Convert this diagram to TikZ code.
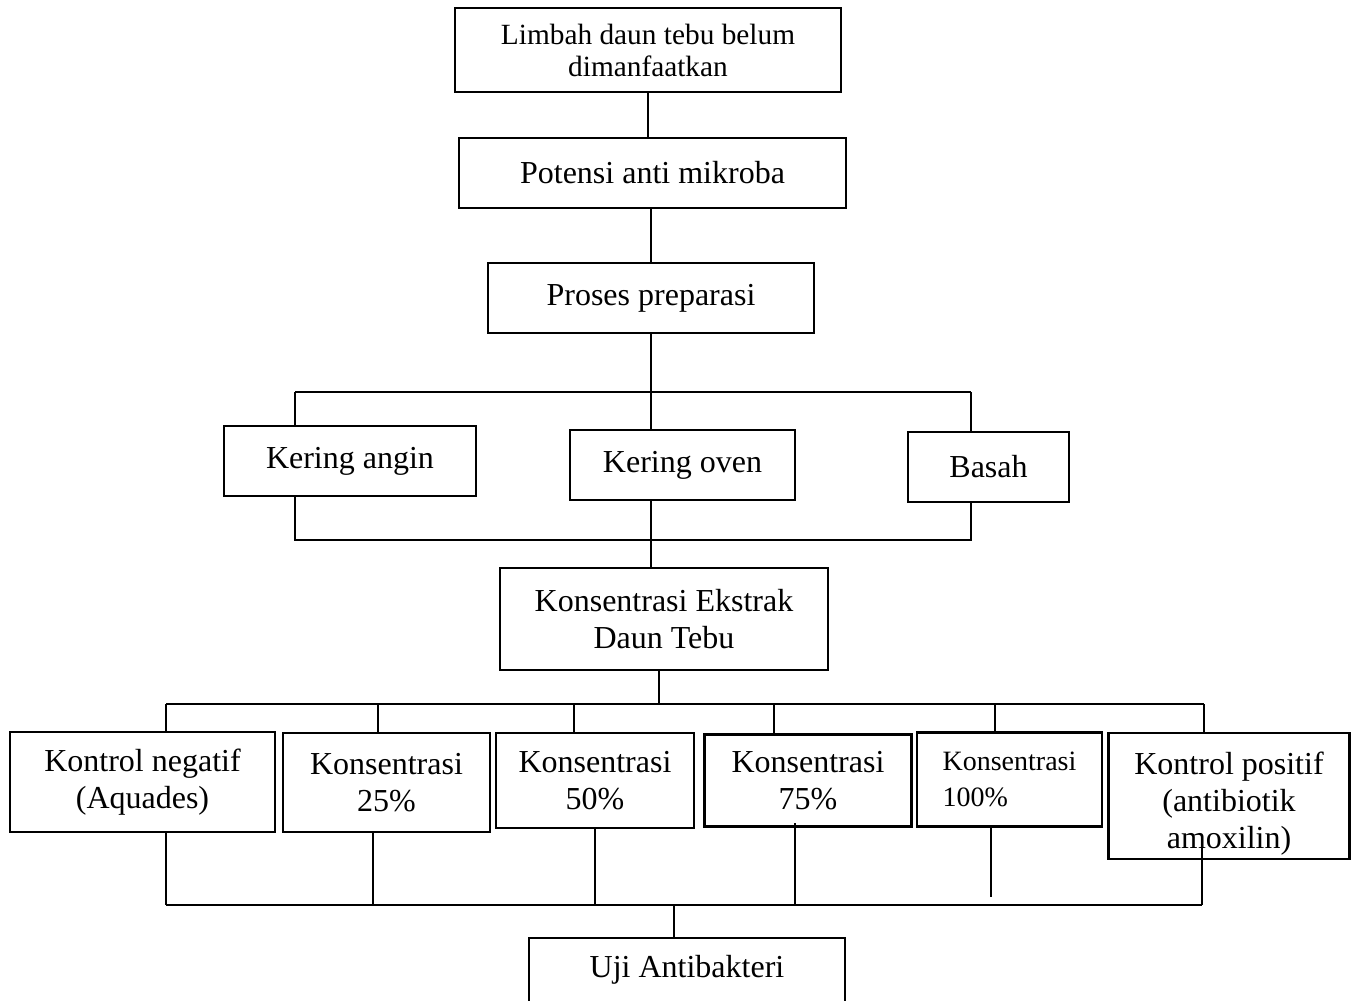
\documentclass[tikz,border=0pt]{standalone}
\usepackage{fontspec}
\setmainfont{Liberation Serif}
\begin{document}
\begin{tikzpicture}[x=0.75pt,y=-0.75pt,
  box/.style={draw,line width=1.8pt,inner sep=0pt,align=center,
    font=\fontsize{24}{27.75}\selectfont},
  boxtext/.style={inner sep=0pt,align=center,font=\fontsize{24}{27.75}\selectfont},
  conn/.style={line width=1.6pt},
  thinconn/.style={line width=0.8pt},
  midconn/.style={line width=1.1pt}]
\useasboundingbox (0,0) rectangle (1357,1000);
\clip (0,0) rectangle (1357,1000);
% boxes
\node[box,minimum width=289.5pt,minimum height=63pt,font=\fontsize{22}{24}\selectfont] (limbah) at (648,50) {Limbah daun tebu belum\\dimanfaatkan};
\node[box,minimum width=290.25pt,minimum height=52.5pt] (potensi) at (652.5,173) {Potensi anti mikroba};
\node[box,minimum width=244.5pt,minimum height=52.5pt] (proses) at (651,298) {Proses preparasi};
\node[box,minimum width=189pt,minimum height=52.5pt] (kangin) at (350,461) {Kering angin};
\node[box,minimum width=168.75pt,minimum height=52.5pt] (koven) at (682.5,465) {Kering oven};
\node[box,minimum width=120.75pt,minimum height=52.5pt] (basah) at (988.5,467) {Basah};
\node[box,minimum width=246pt,minimum height=76.5pt] (ekstrak) at (664,619) {Konsentrasi Ekstrak\\Daun Tebu};
\node[box,minimum width=198.75pt,minimum height=75pt] (kneg) at (142.5,782) {Kontrol negatif\\(Aquades)};
\node[box,minimum width=155.25pt,minimum height=74.25pt] (k25) at (386.5,782.5) {Konsentrasi\\25\%};
\node[box,minimum width=148.5pt,minimum height=71.25pt] (k50) at (595,780.5) {Konsentrasi\\50\%};
\node[box,minimum width=155.25pt,minimum height=69pt] (k75) at (808,780.5) {Konsentrasi\\75\%};
\node[box,minimum width=138.75pt,minimum height=70.5pt,align=left,font=\fontsize{21}{27}\selectfont] (k100) at (1009.5,779.5) {Konsentrasi\\100\%};
\node[box,minimum width=180.75pt,minimum height=94.5pt,
  label={[boxtext,yshift=-6pt]center:{Kontrol positif\\(antibiotik\\amoxilin)}}] (kpos) at (1229,796) {};
\node[box,minimum width=237pt,minimum height=48pt] (uji) at (687,970) {Uji Antibakteri};
% junction coordinates
\coordinate (ja1) at (295,392);
\coordinate (ja2) at (971,392);
\coordinate (jb1) at (295,540);
\coordinate (jb2) at (971,540);
\coordinate (jc) at (659,704);
\coordinate (c1) at (166,704);
\coordinate (c2) at (378,704);
\coordinate (c3) at (574,704);
\coordinate (c4) at (774,704);
\coordinate (c5) at (995,704);
\coordinate (c6) at (1204,704);
\coordinate (d1) at (166,905);
\coordinate (d2) at (373,905);
\coordinate (d3) at (595,905);
\coordinate (d4) at (795,905);
\coordinate (d5) at (991,897);
\coordinate (d6) at (1202,905);
\coordinate (d4top) at (795,823);
\coordinate (d6top) at (1202,848);
\coordinate (jd) at (674,905);
% upper connectors
\draw[conn] (limbah.south) -- (limbah.south |- potensi.north);
\draw[conn] (potensi.south -| proses) -- (proses.north);
\draw[conn] (proses.south) -- (proses.south |- koven.north);
\draw[conn] (ja1) -- (ja2);
\draw[conn] (ja1) -- (ja1 |- kangin.north);
\draw[conn] (ja2) -- (ja2 |- basah.north);
\draw[conn] (kangin.south -| jb1) -- (jb1) -- (jb2) -- (basah.south -| jb2);
\draw[conn] (koven.south -| proses) -- (ekstrak.north -| proses);
% lower connectors
\draw[thinconn] (ekstrak.south -| jc) -- (jc);
\draw[thinconn] (c1) -- (c6);
\draw[thinconn] (c1) -- (c1 |- kneg.north);
\draw[thinconn] (c2) -- (c2 |- k25.north);
\draw[thinconn] (c3) -- (c3 |- k50.north);
\draw[thinconn] (c4) -- (c4 |- k75.north);
\draw[thinconn] (c5) -- (c5 |- k100.north);
\draw[thinconn] (c6) -- (c6 |- kpos.north);
\draw[thinconn] (kneg.south -| d1) -- (d1);
\draw[thinconn] (k25.south -| d2) -- (d2);
\draw[thinconn] (k50.south -| d3) -- (d3);
\draw[thinconn] (d4top) -- (d4);
\draw[thinconn] (k100.south -| d5) -- (d5);
\draw[thinconn] (d6top) -- (d6);
\draw[midconn] (d1) -- (d6);
\draw[conn] (jd) -- (jd |- uji.north);
\end{tikzpicture}
\end{document}
